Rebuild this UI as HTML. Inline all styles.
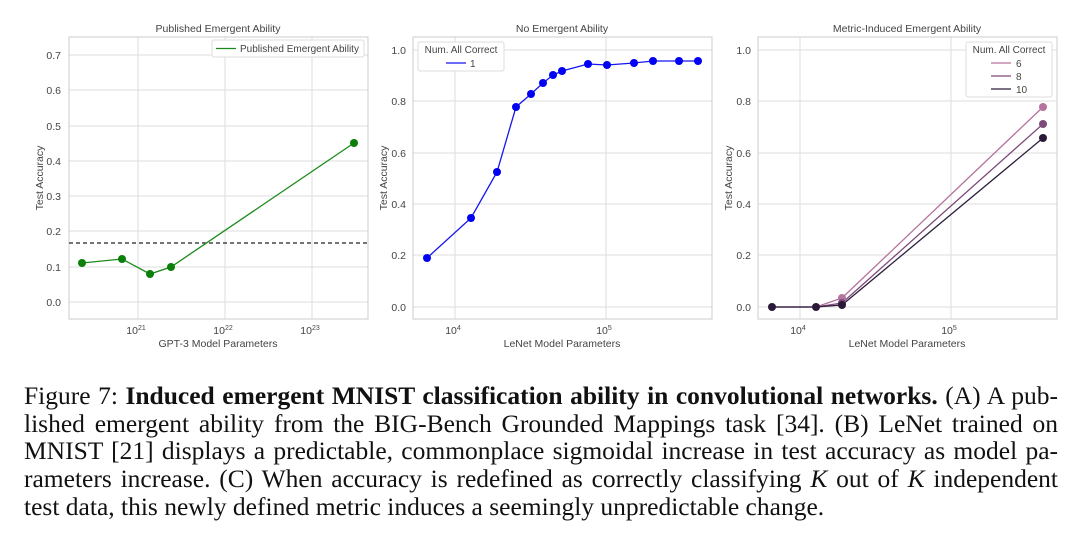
<!DOCTYPE html>
<html><head><meta charset="utf-8"><style>
body{margin:0;width:1080px;height:536px;background:#fff;overflow:hidden;position:relative}
svg{position:absolute;left:0;top:0}
.cap{position:absolute;left:24px;width:1034px;font-family:"Liberation Serif",serif;font-size:25.5px;color:#111;text-align:justify;text-align-last:justify;white-space:nowrap;line-height:28px}
</style></head><body>
<svg width="1080" height="370" font-family="Liberation Sans, DejaVu Sans, sans-serif" font-size="10.5" fill="#444">
<!-- Chart 1 -->
<g stroke="#ddd" stroke-width="1">
<line x1="69" x2="368" y1="55" y2="55"/><line x1="69" x2="368" y1="90" y2="90"/><line x1="69" x2="368" y1="126" y2="126"/><line x1="69" x2="368" y1="161" y2="161"/><line x1="69" x2="368" y1="196" y2="196"/><line x1="69" x2="368" y1="231" y2="231"/><line x1="69" x2="368" y1="267" y2="267"/><line x1="69" x2="368" y1="302" y2="302"/>
<line x1="138" x2="138" y1="37" y2="319"/><line x1="225" x2="225" y1="37" y2="319"/><line x1="312" x2="312" y1="37" y2="319"/>
</g>
<rect x="69" y="37" width="299" height="282" fill="none" stroke="#ccc"/>
<line x1="69" x2="368" y1="243" y2="243" stroke="#222" stroke-width="1.3" stroke-dasharray="4,3"/>
<polyline points="82,263 122,259 150,274 171,267 354,143" fill="none" stroke="#1a8a1a" stroke-width="1.3"/>
<g fill="#0a7f0a"><circle cx="82" cy="263" r="4"/><circle cx="122" cy="259" r="4"/><circle cx="150" cy="274" r="4"/><circle cx="171" cy="267" r="4"/><circle cx="354" cy="143" r="4"/></g>
<rect x="212" y="40" width="152" height="17" fill="#fff" stroke="#ddd" rx="2"/>
<line x1="216" x2="236" y1="48.5" y2="48.5" stroke="#1a8a1a" stroke-width="1.3"/>
<text x="240" y="52" font-size="10">Published Emergent Ability</text>
<g text-anchor="end"><text x="61" y="59">0.7</text><text x="61" y="94">0.6</text><text x="61" y="130">0.5</text><text x="61" y="165">0.4</text><text x="61" y="200">0.3</text><text x="61" y="235">0.2</text><text x="61" y="271">0.1</text><text x="61" y="306">0.0</text></g>
<g text-anchor="middle"><text x="136" y="334">10<tspan font-size="7" dy="-4">21</tspan></text><text x="223" y="334">10<tspan font-size="7" dy="-4">22</tspan></text><text x="310" y="334">10<tspan font-size="7" dy="-4">23</tspan></text>
<text x="218" y="347">GPT-3 Model Parameters</text><text x="218" y="32">Published Emergent Ability</text>
<text transform="translate(43,178) rotate(-90)">Test Accuracy</text></g>

<!-- Chart 2 -->
<g stroke="#ddd"><line x1="413" x2="712" y1="50" y2="50"/><line x1="413" x2="712" y1="101" y2="101"/><line x1="413" x2="712" y1="153" y2="153"/><line x1="413" x2="712" y1="204" y2="204"/><line x1="413" x2="712" y1="255" y2="255"/><line x1="413" x2="712" y1="307" y2="307"/><line x1="455" x2="455" y1="37" y2="319"/><line x1="606" x2="606" y1="37" y2="319"/></g>
<rect x="413" y="37" width="299" height="282" fill="none" stroke="#ccc"/>
<polyline points="427,258 471,218 497,172 516,107 531,94 543,83 553,75 562,71 588,64 607,65 634,63 653,61 679,61 698,61" fill="none" stroke="#1515f0" stroke-width="1.3"/>
<g fill="#0000f5"><circle cx="427" cy="258" r="4"/><circle cx="471" cy="218" r="4"/><circle cx="497" cy="172" r="4"/><circle cx="516" cy="107" r="4"/><circle cx="531" cy="94" r="4"/><circle cx="543" cy="83" r="4"/><circle cx="553" cy="75" r="4"/><circle cx="562" cy="71" r="4"/><circle cx="588" cy="64" r="4"/><circle cx="607" cy="65" r="4"/><circle cx="634" cy="63" r="4"/><circle cx="653" cy="61" r="4"/><circle cx="679" cy="61" r="4"/><circle cx="698" cy="61" r="4"/></g>
<rect x="418" y="42" width="86" height="29" fill="#fff" stroke="#ddd" rx="2"/>
<text x="461" y="53" text-anchor="middle" font-size="10">Num. All Correct</text>
<line x1="446" x2="466" y1="63" y2="63" stroke="#1515f0" stroke-width="1.3"/><text x="470" y="67" font-size="10">1</text>
<g text-anchor="end"><text x="406" y="54">1.0</text><text x="406" y="105">0.8</text><text x="406" y="157">0.6</text><text x="406" y="208">0.4</text><text x="406" y="259">0.2</text><text x="406" y="311">0.0</text></g>
<g text-anchor="middle"><text x="453" y="334">10<tspan font-size="7" dy="-4">4</tspan></text><text x="604" y="334">10<tspan font-size="7" dy="-4">5</tspan></text>
<text x="562" y="347">LeNet Model Parameters</text><text x="562" y="32">No Emergent Ability</text>
<text transform="translate(387,178) rotate(-90)">Test Accuracy</text></g>

<!-- Chart 3 -->
<g stroke="#ddd"><line x1="758" x2="1057" y1="50" y2="50"/><line x1="758" x2="1057" y1="101" y2="101"/><line x1="758" x2="1057" y1="153" y2="153"/><line x1="758" x2="1057" y1="204" y2="204"/><line x1="758" x2="1057" y1="255" y2="255"/><line x1="758" x2="1057" y1="307" y2="307"/><line x1="800" x2="800" y1="37" y2="319"/><line x1="951" x2="951" y1="37" y2="319"/></g>
<rect x="758" y="37" width="299" height="282" fill="none" stroke="#ccc"/>
<polyline points="772,307 816,307 842,298 1043,107" fill="none" stroke="#b5739d" stroke-width="1.3"/>
<polyline points="772,307 816,307 842,303 1043,124" fill="none" stroke="#7d4a7b" stroke-width="1.3"/>
<polyline points="772,307 816,307 842,305 1043,138" fill="none" stroke="#2f1f3f" stroke-width="1.3"/>
<g fill="#b5739d"><circle cx="842" cy="298" r="4"/><circle cx="1043" cy="107" r="4"/></g>
<g fill="#7d4a7b"><circle cx="842" cy="303" r="4"/><circle cx="1043" cy="124" r="4"/></g>
<g fill="#2a1a38"><circle cx="772" cy="307" r="4"/><circle cx="816" cy="307" r="4"/><circle cx="842" cy="305" r="4"/><circle cx="1043" cy="138" r="4"/></g>
<rect x="966" y="42" width="86" height="55" fill="#fff" stroke="#ddd" rx="2"/>
<text x="1009" y="53" text-anchor="middle" font-size="10">Num. All Correct</text>
<line x1="991" x2="1011" y1="63" y2="63" stroke="#b5739d" stroke-width="1.3"/><text x="1016" y="67" font-size="10">6</text>
<line x1="991" x2="1011" y1="76" y2="76" stroke="#7d4a7b" stroke-width="1.3"/><text x="1016" y="80" font-size="10">8</text>
<line x1="991" x2="1011" y1="89" y2="89" stroke="#2f1f3f" stroke-width="1.3"/><text x="1016" y="93" font-size="10">10</text>
<g text-anchor="end"><text x="751" y="54">1.0</text><text x="751" y="105">0.8</text><text x="751" y="157">0.6</text><text x="751" y="208">0.4</text><text x="751" y="259">0.2</text><text x="751" y="311">0.0</text></g>
<g text-anchor="middle"><text x="798" y="334">10<tspan font-size="7" dy="-4">4</tspan></text><text x="949" y="334">10<tspan font-size="7" dy="-4">5</tspan></text>
<text x="907" y="347">LeNet Model Parameters</text><text x="907" y="32">Metric-Induced Emergent Ability</text>
<text transform="translate(732,178) rotate(-90)">Test Accuracy</text></g>
</svg>
<div class="cap" style="top:382px">Figure 7: <b>Induced emergent MNIST classification ability in convolutional networks.</b> (A) A pub-</div>
<div class="cap" style="top:410px">lished emergent ability from the BIG-Bench Grounded Mappings task [34]. (B) LeNet trained on</div>
<div class="cap" style="top:437px">MNIST [21] displays a predictable, commonplace sigmoidal increase in test accuracy as model pa-</div>
<div class="cap" style="top:465px">rameters increase. (C) When accuracy is redefined as correctly classifying <i>K</i> out of <i>K</i> independent</div>
<div class="cap" style="top:493px;text-align-last:left">test data, this newly defined metric induces a seemingly unpredictable change.</div>
</body></html>
